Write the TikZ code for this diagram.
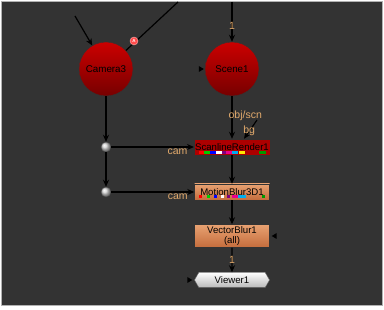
\documentclass[tikz,border=0pt]{standalone}
\usepackage{fontspec}
\setmainfont{Liberation Sans}
\usetikzlibrary{arrows.meta,shapes.symbols}
\definecolor{bgdark}{HTML}{333333}
\definecolor{pintext}{HTML}{E2AA6C}
\definecolor{redtop}{HTML}{CC0000}
\definecolor{redbot}{HTML}{760000}
\definecolor{orgtop}{HTML}{E8A272}
\definecolor{orgbot}{HTML}{C46C3C}
\tikzset{
  readnode/.style={circle,draw=black!80,minimum size=54pt,inner sep=0pt,
    top color=redtop,bottom color=redbot,font=\fontsize{9.8}{10}\selectfont},
  dotnode/.style={circle,draw=black!70,minimum size=10pt,inner sep=0pt,ball color=gray!35},
  rendbox/.style={rectangle,draw=black!80,minimum width=75pt,minimum height=16pt,
    inner sep=1pt,font=\fontsize{9.6}{10}\selectfont},
  pinlabel/.style={text=pintext,font=\fontsize{10.5}{11}\selectfont,inner sep=1pt},
  pipe/.style={draw=black,line width=1.2pt,->}
}
\begin{document}
\begin{tikzpicture}[x=1pt,y=-1pt,>={Stealth[length=7pt,width=6pt]}]
  \useasboundingbox (0,0) rectangle (384,310);
  \fill[white] (0,0) rectangle (384,310);
  \filldraw[fill=bgdark,draw=gray!60] (1,1) rectangle (382,305);

  \node[readnode] (camera) at (106,69) {Camera3};
  \node[readnode] (scene) at (232,69) {Scene1};
  \node[dotnode] (dotA) at (106,147) {};
  \node[dotnode] (dotB) at (106,192) {};
  \node[rendbox,fill=redtop!85!black,text=black] (scan) at (232,147) {ScanlineRender1};
  \node[rendbox,top color=orgtop,bottom color=orgbot] (mblur) at (232,192) {MotionBlur3D1};
  \node[rendbox,top color=orgtop,bottom color=orgbot,minimum height=23pt,
    align=center,font=\fontsize{9.6}{9.6}\selectfont] (vblur) at (232,236) {VectorBlur1\\(all)};
  \node[rendbox,signal,signal to=east and west,signal pointer angle=120,
    minimum height=15pt,top color=white,bottom color=gray!55,draw=black!60] (viewer) at (232,280) {Viewer1};

  \coordinate (camin) at (75,16);
  \coordinate (maskin) at (178,2);
  \coordinate (scenein) at (232,2);
  \coordinate (bgin) at (257,120);

  \draw[pipe] (camin) -- (camera);
  \draw[line width=1.2pt] (camera) -- (maskin);
  \node[circle,fill=red!70!white,draw=white!70!red,inner sep=0pt,minimum size=8pt,
    text=white,font=\fontsize{4.5}{4.5}\selectfont\bfseries] (amask) at (134,41) {A};
  \draw[pipe] (scenein) -- (scene) node[pinlabel,pos=.6] {1};
  \draw[pipe] (camera) -- (dotA);
  \draw[pipe] (dotA) -- (dotB);
  \draw[pipe] (dotA) -- (scan) node[pinlabel,pos=1,anchor=north east,xshift=-5pt] {cam};
  \draw[pipe] (dotB) -- (mblur) node[pinlabel,pos=1,anchor=north east,xshift=-5pt] {cam};
  \draw[pipe] (scene) -- (scan) node[pinlabel,pos=.47,anchor=west,xshift=-5pt] {obj/scn};
  \draw[pipe] (bgin) -- ([xshift=12pt]scan.north) node[pinlabel,pos=.6] {bg};
  \draw[pipe] (scan) -- (mblur);
  \draw[pipe] (mblur) -- (vblur);
  \draw[pipe] (vblur) -- (viewer) node[pinlabel,pos=.5] {1};

  \foreach \x/\c in {199/red,204/green!80!black,210/blue,216/white,222/violet,226/magenta,
    232/cyan,239/yellow!90!orange}
    \fill[\c] (\x,151) rectangle +(6,3);
  \fill[green!60!black] (259,151) rectangle +(7,3);
  \foreach \x/\c in {199/red,207/green!80!black,214/blue,221/white,227/violet}
    \fill[\c] (\x,195) rectangle +(3,3);
  \fill[magenta] (232,195) rectangle (238,198);
  \fill[cyan] (238,195) rectangle (246,198);
  \fill[green!60!black] (262,195) rectangle +(3,3);

  \fill[black] ([xshift=-6pt,yshift=3pt]scene.west) -- ([xshift=-1pt]scene.west)
    -- ([xshift=-6pt,yshift=-3pt]scene.west) -- cycle;
  \fill[black] ([xshift=7pt,yshift=3pt]vblur.east) -- ([xshift=2pt]vblur.east)
    -- ([xshift=7pt,yshift=-3pt]vblur.east) -- cycle;
  \fill[black] ([xshift=-7pt,yshift=3pt]viewer.west) -- ([xshift=-2pt]viewer.west)
    -- ([xshift=-7pt,yshift=-3pt]viewer.west) -- cycle;
\end{tikzpicture}
\end{document}
